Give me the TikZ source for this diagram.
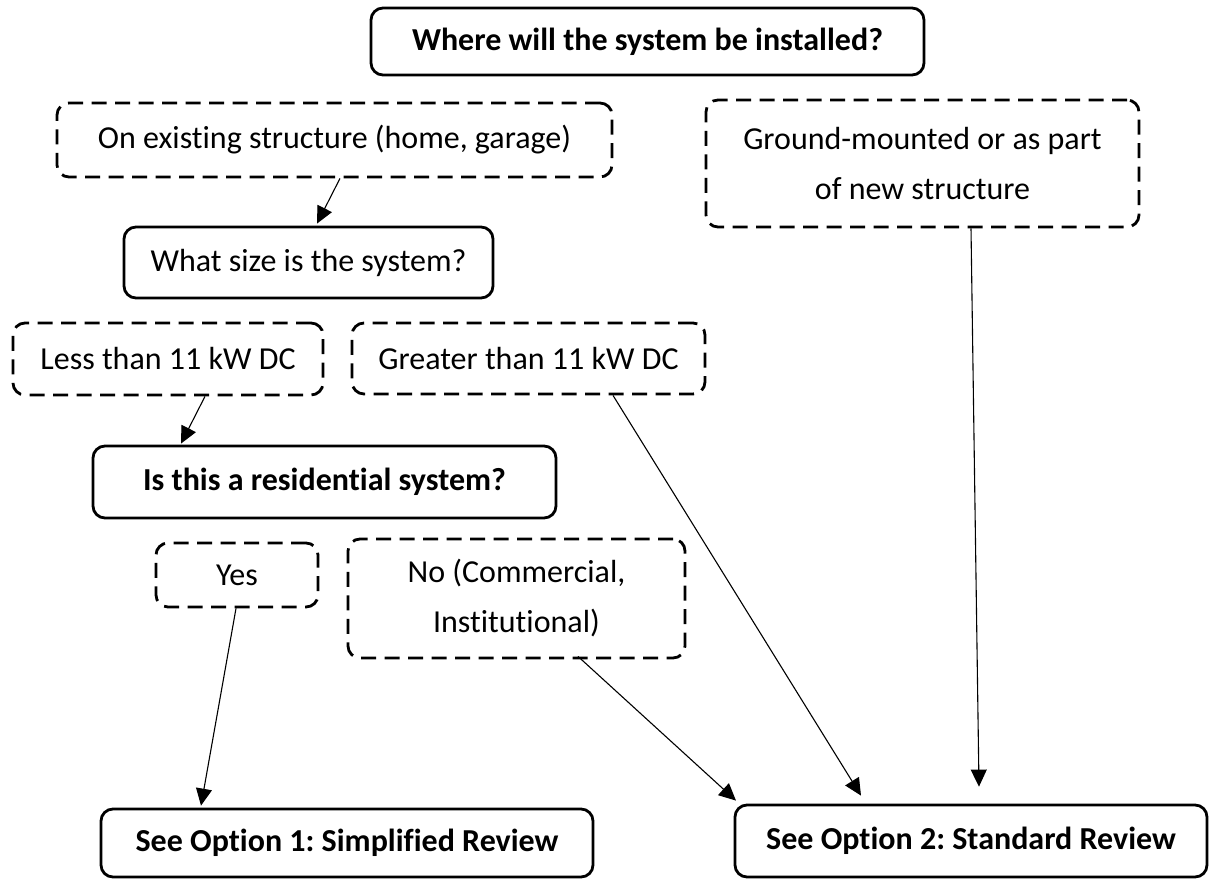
\documentclass[tikz,border=0pt]{standalone}
\usepackage{fontspec}
\setmainfont{Carlito}[Ligatures=NoCommon]
\usetikzlibrary{arrows.meta}
\frenchspacing
\begin{document}
\begin{tikzpicture}[x=1pt,y=-1pt,
  box/.style={draw, line width=2.8pt, rounded corners=12pt, align=center, inner sep=0pt, font=\fontsize{32}{50}\selectfont},
  solidbox/.style={box},
  dashbox/.style={box, dash pattern=on 15pt off 8.5pt},
  boldtext/.style={font=\fontsize{32}{50}\selectfont\bfseries},
  conn/.style={line width=1.1pt, -{Triangle[length=17pt,width=16pt]}}
]
\useasboundingbox (0,0) rectangle (1209,878);
\node[solidbox, boldtext, minimum width=553pt, minimum height=67pt] (top) at (647.5,41.5) {Where will the system be installed?};
\node[dashbox, minimum width=555pt, minimum height=74pt] (exist) at (334.5,140) {On existing structure (home, garage)};
\node[dashbox, minimum width=433pt, minimum height=127pt] (ground) at (922.5,163.5) {Ground-mounted or as part\\of new structure};
\node[solidbox, minimum width=369pt, minimum height=71pt] (size) at (308.5,262.5) {What size is the system?};
\node[dashbox, minimum width=310pt, minimum height=72pt] (less) at (168,359) {Less than 11 kW DC};
\node[dashbox, minimum width=353pt, minimum height=71pt] (greater) at (528.5,358.5) {Greater than 11 kW DC};
\node[solidbox, boldtext, minimum width=463pt, minimum height=72pt] (resid) at (324.5,482) {Is this a residential system?};
\node[dashbox, minimum width=162pt, minimum height=64pt] (yes) at (237,575) {Yes};
\node[dashbox, minimum width=337pt, minimum height=119pt] (no) at (516.5,598.5) {No (Commercial,\\Institutional)};
\node[solidbox, boldtext, minimum width=492pt, minimum height=68pt] (opt1) at (347,843) {See Option 1: Simplified Review};
\node[solidbox, boldtext, minimum width=472pt, minimum height=72pt] (opt2) at (971,841) {See Option 2: Standard Review};
\draw[conn] ([xshift=5.5pt]exist.south) -- ([xshift=8.5pt,yshift=2pt]size.north);
\draw[conn] ([xshift=37pt]less.south) -- ([xshift=-143.5pt,yshift=1pt]resid.north);
\draw[conn] ([xshift=84.5pt]greater.south) -- ([xshift=-110pt,yshift=8pt]opt2.north);
\draw[conn] ([xshift=48.5pt]ground.south) -- ([xshift=8pt,yshift=17pt]opt2.north);
\draw[conn] ([xshift=-1pt]yes.south) -- ([xshift=-146pt,yshift=2pt]opt1.north);
\draw[conn] ([xshift=61.5pt,yshift=3pt]no.south) -- ([xshift=-235pt,yshift=3pt]opt2.north);
\end{tikzpicture}
\end{document}
